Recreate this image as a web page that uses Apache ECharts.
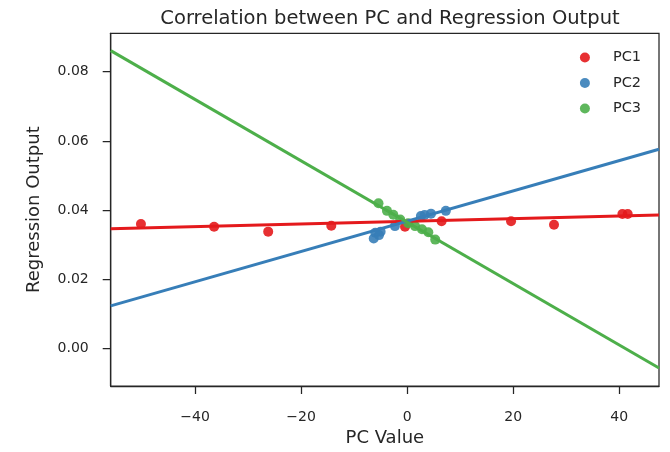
<!DOCTYPE html>
<html>
<head>
<meta charset="utf-8">
<style>
  html, body { margin: 0; padding: 0; background: #fff; }
  #chart { width: 670px; height: 452px; }
</style>
<script src="https://cdn.jsdelivr.net/npm/echarts@6/dist/echarts.min.js"></script>
</head>
<body>
<div id="chart"></div>
<script>
// 数据点
const pc1X = [-50.2, -36.4, -26.2, -14.3, -0.4, 6.5, 19.6, 27.7, 40.6, 41.6]
const pc1Y = [0.036, 0.0352, 0.0338, 0.0355, 0.0352, 0.0368, 0.0368, 0.0358, 0.0389, 0.0389]
const pc2X = [-6.3, -6.0, -5.3, -5.0, -2.3, 2.6, 3.3, 4.5, 7.3]
const pc2Y = [0.0318, 0.0335, 0.0328, 0.0338, 0.0354, 0.0383, 0.0386, 0.039, 0.0398]
const pc3X = [-5.4, -3.8, -2.6, -1.3, 0.2, 1.5, 2.8, 4.0, 5.3]
const pc3Y = [0.042, 0.0398, 0.0387, 0.0373, 0.0362, 0.0354, 0.0345, 0.0336, 0.0315]

// 回归线端点
const fitX = [-55.9, 47.5]
const pc1Fit = [0.0346, 0.0386]
const pc2Fit = [0.01234, 0.0576]
const pc3Fit = [0.0861, -0.0056]

// 坐标轴范围和刻度
const xRange = [-55.9, 47.5]
const yRange = [-0.0108, 0.0911]
const xTicks = [-40, -20, 0, 20, 40]
const yTicks = [0, 0.02, 0.04, 0.06, 0.08]

const names = ['PC1', 'PC2', 'PC3']
const colors = ['#e41a1c', '#377eb8', '#4daf4a']
const textColor = '#262626'
const font = 'DejaVu Sans'

const zip = (xs, ys) => xs.map((x, i) => [x, ys[i]])
const points = [zip(pc1X, pc1Y), zip(pc2X, pc2Y), zip(pc3X, pc3Y)]
const fits = [zip(fitX, pc1Fit), zip(fitX, pc2Fit), zip(fitX, pc3Fit)]

const series = []
names.forEach((name, i) => {
  series.push({
    name,
    type: 'scatter',
    data: points[i],
    symbolSize: 10,
    itemStyle: { color: colors[i], opacity: 0.9 },
  })
  series.push({
    name: name + ' fit',
    type: 'line',
    data: fits[i],
    showSymbol: false,
    lineStyle: { color: colors[i], width: 3 },
    itemStyle: { color: colors[i] },
  })
})

const axisLine = { show: true, onZero: false, lineStyle: { color: textColor, width: 1.25 } }

const chart = echarts.init(document.getElementById('chart'))
chart.setOption({
  animation: false,
  textStyle: { fontFamily: font, color: textColor },
  title: {
    text: 'Correlation between PC and Regression Output',
    left: 385,
    top: 4,
    textAlign: 'center',
    textStyle: { fontFamily: font, fontSize: 19.5, fontWeight: 'normal', color: textColor },
  },
  legend: {
    data: names,
    orient: 'vertical',
    right: 24,
    top: 45,
    icon: 'circle',
    itemWidth: 10,
    itemHeight: 10,
    itemGap: 10.5,
    textStyle: { fontFamily: font, fontSize: 14.5, color: textColor, padding: [0, 0, 0, 18] },
  },
  grid: {
    left: 110.7,
    right: 11,
    top: 33.3,
    bottom: 62,
    show: true,
    borderColor: textColor,
    borderWidth: 1.25,
  },
  xAxis: {
    type: 'value',
    min: xRange[0],
    max: xRange[1],
    name: 'PC Value',
    nameLocation: 'middle',
    nameGap: 43,
    nameTextStyle: { fontFamily: font, fontSize: 18, color: textColor },
    axisLine,
    splitLine: { show: false },
    axisTick: { show: true, length: 8, customValues: xTicks, lineStyle: { color: textColor, width: 1.25 } },
    axisLabel: {
      customValues: xTicks,
      margin: 24,
      fontFamily: font,
      fontSize: 14,
      color: textColor,
      formatter: (v) => String(v).replace('-', '\u2212'),
    },
  },
  yAxis: {
    type: 'value',
    min: yRange[0],
    max: yRange[1],
    name: 'Regression Output',
    nameLocation: 'middle',
    nameGap: 67,
    nameTextStyle: { fontFamily: font, fontSize: 18, color: textColor },
    axisLine,
    splitLine: { show: false },
    axisTick: { show: true, length: 8, customValues: yTicks, lineStyle: { color: textColor, width: 1.25 } },
    axisLabel: {
      customValues: yTicks,
      margin: 22,
      fontFamily: font,
      fontSize: 14,
      color: textColor,
      formatter: (v) => v.toFixed(2),
    },
  },
  series,
})

window.addEventListener('resize', () => chart.resize())
</script>
</body>
</html>
